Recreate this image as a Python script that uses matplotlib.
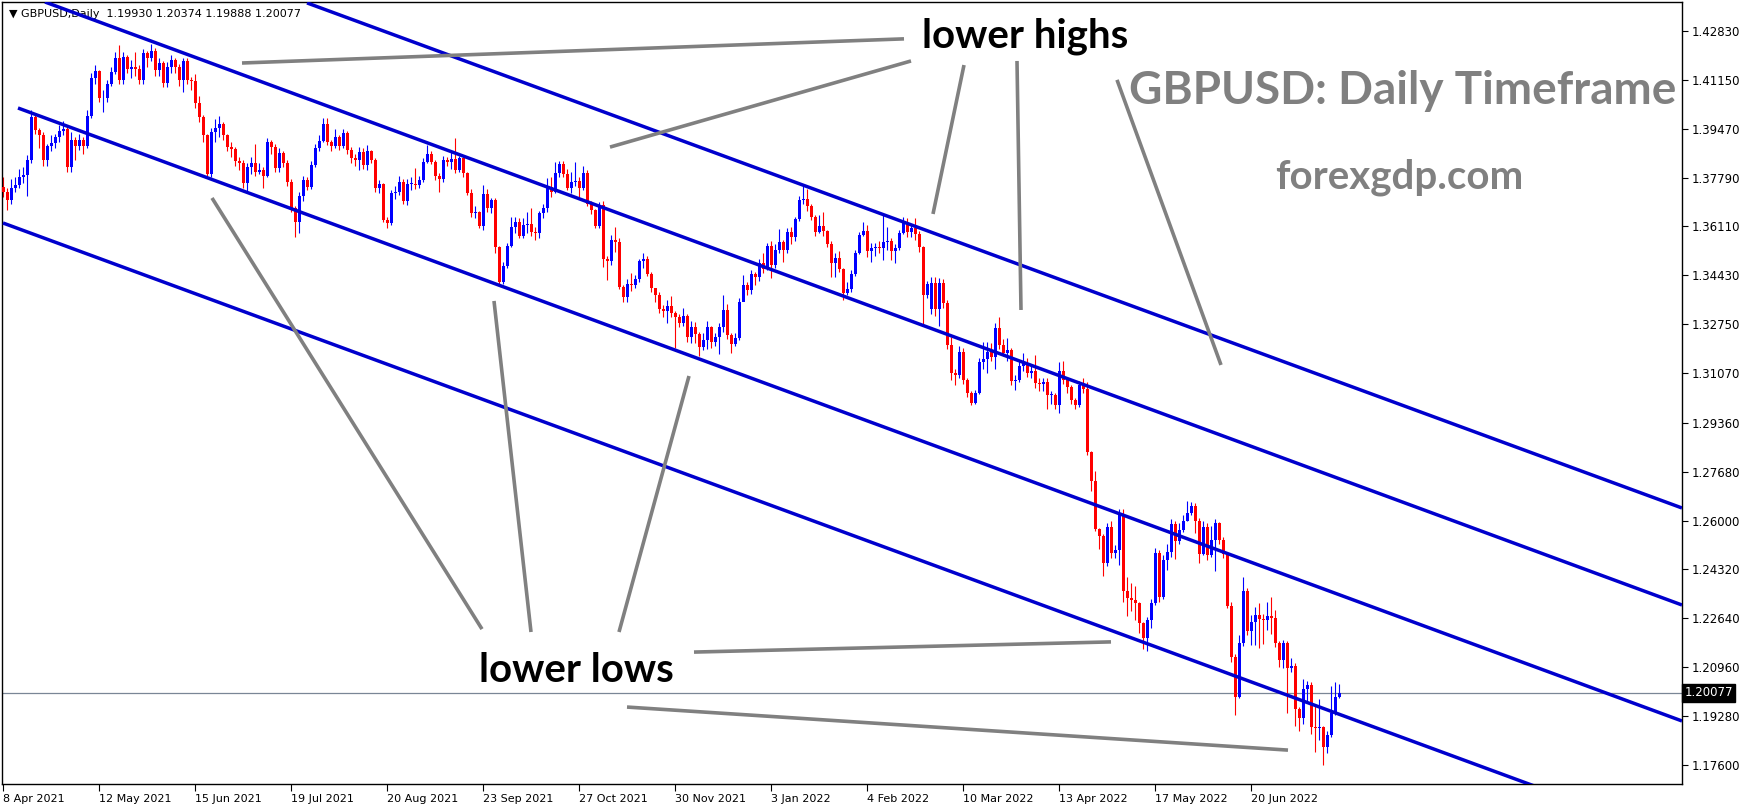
import numpy as np
import matplotlib
matplotlib.use("Agg")
import matplotlib.pyplot as plt

# daily candles, GBPUSD 8 Apr 2021 .. Jul 2022
first_open = 1.3747
gap_opens = {232: 1.3326}

closes = [
    # Apr - Jul 2021
    1.3730, 1.3702, 1.3742, 1.3753, 1.3782, 1.3787, 1.3841, 1.3986, 1.3942, 1.3925,
    1.3839, 1.3887, 1.3899, 1.3917, 1.3939, 1.3946, 1.3814, 1.3910, 1.3887, 1.3908,
    1.3888, 1.3990, 1.4120, 1.4146, 1.4051, 1.4053, 1.4100, 1.4143, 1.4190, 1.4114,
    1.4194, 1.4151, 1.4160, 1.4153, 1.4116, 1.4208, 1.4189, 1.4215, 1.4148, 1.4174,
    1.4105, 1.4158, 1.4183, 1.4158, 1.4114, 1.4179, 1.4114, 1.4112, 1.4036, 1.3986,
    1.3925, 1.3793, 1.3937, 1.3948, 1.3965, 1.3925, 1.3883, 1.3879, 1.3837, 1.3830,
    1.3761, 1.3816, 1.3830, 1.3799, 1.3805, 1.3785, 1.3901,
    # Jul - Oct 2021
    1.3883, 1.3811, 1.3862, 1.3828, 1.3765, 1.3673, 1.3627, 1.3716, 1.3771, 1.3748,
    1.3822, 1.3880, 1.3906, 1.3963, 1.3903, 1.3889, 1.3920, 1.3888, 1.3934, 1.3874,
    1.3845, 1.3840, 1.3868, 1.3822, 1.3872, 1.3840, 1.3742, 1.3757, 1.3633, 1.3624,
    1.3725, 1.3731, 1.3765, 1.3700, 1.3757, 1.3758, 1.3754, 1.3771, 1.3834, 1.3860,
    1.3834, 1.3784, 1.3773, 1.3839, 1.3834, 1.3842, 1.3805, 1.3845, 1.3796, 1.3727,
    1.3658, 1.3661, 1.3613, 1.3723, 1.3673, 1.3702, 1.3539, 1.3421, 1.3475, 1.3544,
    1.3610, 1.3625, 1.3579, 1.3616, 1.3619, 1.3593, 1.3587, 1.3658, 1.3673, 1.3748,
    # Oct 2021 - Jan 2022
    1.3731, 1.3794, 1.3826, 1.3791, 1.3742, 1.3765, 1.3767, 1.3742, 1.3794, 1.3688,
    1.3668, 1.3613, 1.3685, 1.3498, 1.3493, 1.3565, 1.3557, 1.3404, 1.3370, 1.3413,
    1.3410, 1.3429, 1.3493, 1.3499, 1.3448, 1.3398, 1.3375, 1.3326, 1.3322, 1.3338,
    1.3312, 1.3299, 1.3278, 1.3303, 1.3230, 1.3264, 1.3241, 1.3198, 1.3221, 1.3267,
    1.3215, 1.3230, 1.3264, 1.3324, 1.3238, 1.3207, 1.3226, 1.3350, 1.3410, 1.3393,
    1.3446, 1.3436, 1.3484, 1.3464, 1.3544, 1.3479, 1.3530, 1.3559, 1.3530, 1.3593,
    1.3576, 1.3637, 1.3702, 1.3704, 1.3681, 1.3645, 1.3593,
    # Jan - Apr 2022
    1.3613, 1.3597, 1.3551, 1.3487, 1.3502, 1.3464, 1.3381, 1.3395, 1.3448, 1.3521,
    1.3582, 1.3597, 1.3528, 1.3536, 1.3539, 1.3536, 1.3559, 1.3561, 1.3528, 1.3536,
    1.3587, 1.3624, 1.3593, 1.3605, 1.3585, 1.3539, 1.3375, 1.3413, 1.3418, 1.3326,
    1.3418, 1.3347, 1.3204, 1.3106, 1.3100, 1.3181, 1.3083, 1.3037, 1.3003, 1.3037,
    1.3146, 1.3154, 1.3181, 1.3163, 1.3261, 1.3204, 1.3177, 1.3186, 1.3081, 1.3085,
    1.3131, 1.3143, 1.3108, 1.3115, 1.3072, 1.3069, 1.3077, 1.3032, 1.3032, 1.2997,
    1.3115, 1.3083, 1.3060, 1.3014, 1.2997, 1.3066, 1.3051, 1.2837,
    # Apr - Jul 2022
    1.2737, 1.2570, 1.2547, 1.2455, 1.2579, 1.2490, 1.2499, 1.2623, 1.2359, 1.2333,
    1.2327, 1.2315, 1.2249, 1.2195, 1.2258, 1.2315, 1.2490, 1.2336, 1.2465, 1.2493,
    1.2588, 1.2531, 1.2568, 1.2600, 1.2627, 1.2650, 1.2600, 1.2485, 1.2579, 1.2482,
    1.2533, 1.2593, 1.2533, 1.2485, 1.2306, 1.2130, 1.1995, 1.2178, 1.2358, 1.2222,
    1.2252, 1.2275, 1.2261, 1.2258, 1.2272, 1.2264, 1.2178, 1.2121, 1.2178, 1.2092,
    1.2100, 1.1951, 1.1920, 1.2020, 1.2035, 1.1889, 1.1886, 1.1889, 1.1820, 1.1863,
    1.1937, 1.1993, 1.20077,
]

highs = [
    1.3782, 1.3745, 1.3775, 1.3780, 1.3810, 1.3815, 1.3856, 1.4010, 1.4000, 1.3950,
    1.3935, 1.3895, 1.3925, 1.3930, 1.3960, 1.3975, 1.3960, 1.3935, 1.3920, 1.3930,
    1.3920, 1.4010, 1.4140, 1.4166, 1.4150, 1.4080, 1.4115, 1.4160, 1.4210, 1.4235,
    1.4210, 1.4200, 1.4185, 1.4210, 1.4165, 1.4220, 1.4215, 1.4240, 1.4225, 1.4190,
    1.4180, 1.4175, 1.4200, 1.4190, 1.4170, 1.4190, 1.4190, 1.4125, 1.4135, 1.4060,
    1.3995, 1.3930, 1.3950, 1.3980, 1.3990, 1.3970, 1.3930, 1.3900, 1.3885, 1.3850,
    1.3840, 1.3830, 1.3850, 1.3896, 1.3830, 1.3815, 1.3915,
    1.3910, 1.3895, 1.3880, 1.3870, 1.3840, 1.3775, 1.3680, 1.3730, 1.3785, 1.3780,
    1.3835, 1.3895, 1.3925, 1.3985, 1.3985, 1.3910, 1.3945, 1.3925, 1.3945, 1.3940,
    1.3885, 1.3860, 1.3885, 1.3880, 1.3890, 1.3875, 1.3845, 1.3770, 1.3760, 1.3645,
    1.3735, 1.3750, 1.3785, 1.3775, 1.3775, 1.3780, 1.3811, 1.3785, 1.3845, 1.3891,
    1.3870, 1.3840, 1.3795, 1.3855, 1.3850, 1.3870, 1.3914, 1.3855, 1.3850, 1.3800,
    1.3740, 1.3680, 1.3665, 1.3754, 1.3740, 1.3710, 1.3710, 1.3545, 1.3490, 1.3555,
    1.3645, 1.3645, 1.3640, 1.3640, 1.3662, 1.3673, 1.3610, 1.3665, 1.3690, 1.3776,
    1.3780, 1.3834, 1.3835, 1.3835, 1.3810, 1.3800, 1.3834, 1.3780, 1.3819, 1.3805,
    1.3700, 1.3670, 1.3696, 1.3700, 1.3510, 1.3582, 1.3608, 1.3570, 1.3410, 1.3430,
    1.3452, 1.3445, 1.3500, 1.3519, 1.3510, 1.3455, 1.3400, 1.3385, 1.3340, 1.3360,
    1.3372, 1.3320, 1.3310, 1.3330, 1.3310, 1.3285, 1.3284, 1.3250, 1.3245, 1.3285,
    1.3270, 1.3245, 1.3280, 1.3375, 1.3345, 1.3245, 1.3245, 1.3365, 1.3444, 1.3420,
    1.3460, 1.3455, 1.3500, 1.3519, 1.3555, 1.3560, 1.3550, 1.3601, 1.3565, 1.3605,
    1.3610, 1.3645, 1.3715, 1.3749, 1.3740, 1.3690, 1.3650,
    1.3650, 1.3662, 1.3600, 1.3560, 1.3520, 1.3528, 1.3470, 1.3420, 1.3460, 1.3530,
    1.3592, 1.3627, 1.3616, 1.3555, 1.3555, 1.3560, 1.3650, 1.3610, 1.3570, 1.3550,
    1.3600, 1.3645, 1.3640, 1.3620, 1.3640, 1.3595, 1.3545, 1.3425, 1.3438, 1.3438,
    1.3435, 1.3430, 1.3360, 1.3230, 1.3120, 1.3200, 1.3195, 1.3090, 1.3045, 1.3050,
    1.3160, 1.3215, 1.3215, 1.3210, 1.3278, 1.3299, 1.3225, 1.3226, 1.3195, 1.3100,
    1.3150, 1.3175, 1.3160, 1.3130, 1.3169, 1.3090, 1.3090, 1.3090, 1.3045, 1.3040,
    1.3145, 1.3150, 1.3090, 1.3065, 1.3020, 1.3080, 1.3090, 1.3075,
    1.2840, 1.2770, 1.2575, 1.2555, 1.2590, 1.2600, 1.2516, 1.2640, 1.2640, 1.2407,
    1.2384, 1.2375, 1.2320, 1.2250, 1.2270, 1.2329, 1.2505, 1.2500, 1.2480, 1.2520,
    1.2605, 1.2600, 1.2590, 1.2620, 1.2668, 1.2665, 1.2660, 1.2610, 1.2600, 1.2590,
    1.2580, 1.2605, 1.2595, 1.2545, 1.2490, 1.2320, 1.2140, 1.2207, 1.2405, 1.2367,
    1.2275, 1.2304, 1.2315, 1.2280, 1.2321, 1.2336, 1.2293, 1.2185, 1.2190, 1.2185,
    1.2127, 1.2110, 1.1960, 1.2054, 1.2050, 1.2045, 1.1966, 1.1985, 1.1895, 1.1875,
    1.2030, 1.2046, 1.20374,
]

lows = [
    1.3713, 1.3667, 1.3690, 1.3730, 1.3745, 1.3760, 1.3716, 1.3830, 1.3930, 1.3880,
    1.3820, 1.3820, 1.3870, 1.3880, 1.3900, 1.3925, 1.3800, 1.3800, 1.3840, 1.3875,
    1.3860, 1.3880, 1.3985, 1.4100, 1.4040, 1.4005, 1.4040, 1.4095, 1.4135, 1.4100,
    1.4100, 1.4140, 1.4120, 1.4130, 1.4100, 1.4100, 1.4160, 1.4180, 1.4130, 1.4130,
    1.4090, 1.4090, 1.4140, 1.4140, 1.4095, 1.4074, 1.4100, 1.4080, 1.4020, 1.3970,
    1.3900, 1.3785, 1.3782, 1.3900, 1.3920, 1.3910, 1.3870, 1.3850, 1.3820, 1.3805,
    1.3745, 1.3730, 1.3790, 1.3785, 1.3790, 1.3742, 1.3780,
    1.3860, 1.3800, 1.3800, 1.3815, 1.3750, 1.3660, 1.3576, 1.3587, 1.3700, 1.3735,
    1.3740, 1.3815, 1.3870, 1.3900, 1.3890, 1.3870, 1.3880, 1.3875, 1.3880, 1.3860,
    1.3830, 1.3820, 1.3805, 1.3810, 1.3805, 1.3830, 1.3730, 1.3725, 1.3625, 1.3605,
    1.3615, 1.3705, 1.3720, 1.3690, 1.3685, 1.3735, 1.3740, 1.3745, 1.3765, 1.3830,
    1.3825, 1.3770, 1.3731, 1.3765, 1.3820, 1.3810, 1.3795, 1.3800, 1.3780, 1.3720,
    1.3645, 1.3640, 1.3605, 1.3600, 1.3660, 1.3658, 1.3520, 1.3412, 1.3415, 1.3470,
    1.3540, 1.3590, 1.3570, 1.3570, 1.3590, 1.3580, 1.3565, 1.3570, 1.3640, 1.3660,
    1.3714, 1.3725, 1.3780, 1.3780, 1.3735, 1.3725, 1.3750, 1.3713, 1.3735, 1.3680,
    1.3655, 1.3605, 1.3605, 1.3471, 1.3427, 1.3480, 1.3524, 1.3395, 1.3350, 1.3352,
    1.3390, 1.3400, 1.3420, 1.3470, 1.3440, 1.3385, 1.3350, 1.3315, 1.3300, 1.3278,
    1.3300, 1.3195, 1.3265, 1.3270, 1.3215, 1.3209, 1.3210, 1.3165, 1.3185, 1.3189,
    1.3195, 1.3200, 1.3173, 1.3250, 1.3225, 1.3175, 1.3200, 1.3220, 1.3390, 1.3375,
    1.3380, 1.3410, 1.3425, 1.3450, 1.3460, 1.3433, 1.3470, 1.3520, 1.3490, 1.3520,
    1.3550, 1.3560, 1.3630, 1.3690, 1.3665, 1.3635, 1.3580,
    1.3590, 1.3580, 1.3540, 1.3438, 1.3436, 1.3455, 1.3358, 1.3375, 1.3385, 1.3440,
    1.3515, 1.3580, 1.3505, 1.3490, 1.3510, 1.3520, 1.3496, 1.3530, 1.3496, 1.3487,
    1.3530, 1.3585, 1.3575, 1.3575, 1.3565, 1.3525, 1.3272, 1.3365, 1.3310, 1.3303,
    1.3270, 1.3330, 1.3190, 1.3085, 1.3065, 1.3090, 1.3070, 1.3025, 1.2997, 1.3000,
    1.3035, 1.3120, 1.3106, 1.3150, 1.3120, 1.3190, 1.3165, 1.3150, 1.3065, 1.3049,
    1.3075, 1.3115, 1.3095, 1.3090, 1.3055, 1.3045, 1.3045, 1.2982, 1.3000, 1.2985,
    1.2971, 1.3070, 1.3040, 1.3000, 1.2985, 1.2990, 1.3040, 1.2825,
    1.2700, 1.2565, 1.2501, 1.2410, 1.2445, 1.2470, 1.2470, 1.2447, 1.2320, 1.2272,
    1.2290, 1.2258, 1.2215, 1.2160, 1.2153, 1.2230, 1.2310, 1.2320, 1.2330, 1.2430,
    1.2475, 1.2467, 1.2520, 1.2560, 1.2600, 1.2620, 1.2558, 1.2455, 1.2480, 1.2465,
    1.2475, 1.2428, 1.2520, 1.2470, 1.2300, 1.2115, 1.1932, 1.1990, 1.2170, 1.2207,
    1.2172, 1.2172, 1.2161, 1.2175, 1.2225, 1.2210, 1.2165, 1.2095, 1.2092, 1.1937,
    1.2080, 1.1895, 1.1878, 1.1900, 1.1980, 1.1866, 1.1806, 1.1845, 1.1760, 1.1802,
    1.1855, 1.1930, 1.19888,
]

date_labels = ["8 Apr 2021", "12 May 2021", "15 Jun 2021", "19 Jul 2021", "20 Aug 2021",
               "23 Sep 2021", "27 Oct 2021", "30 Nov 2021", "3 Jan 2022", "4 Feb 2022",
               "10 Mar 2022", "13 Apr 2022", "17 May 2022", "20 Jun 2022"]
date_bars = [0, 24, 48, 72, 96, 120, 144, 168, 192, 216, 240, 264, 288, 312]

price_ticks = [1.42830, 1.41150, 1.39470, 1.37790, 1.36110, 1.34430, 1.32750, 1.31070,
               1.29360, 1.27680, 1.26000, 1.24320, 1.22640, 1.20960, 1.19280, 1.17600]

# channel lines: (bar, price) start and end
channels = [
    ((76.0, 1.43796), (419.75, 1.26433)),
    ((10.5, 1.43827), (419.75, 1.23098)),
    ((3.75, 1.40183), (419.75, 1.19111)),
    ((0.0, 1.36230), (419.75, 1.15010)),
]

# grey pointer lines (bar, price)
pointers = [
    ((59.75, 1.4173), (225.25, 1.4256)),
    ((151.75, 1.3884), (227.0, 1.4180)),
    ((232.5, 1.3654), (240.25, 1.4166)),
    ((254.5, 1.3324), (253.5, 1.4180)),
    ((278.5, 1.4115), (304.5, 1.3135)),
    ((119.75, 1.2227), (52.25, 1.3709)),
    ((132.0, 1.2217), (122.75, 1.3355)),
    ((154.0, 1.2217), (171.5, 1.3097)),
    ((172.75, 1.2148), (277.0, 1.2183)),
    ((156.0, 1.1959), (321.25, 1.1811)),
]

closes = np.array(closes)
highs = np.array(highs)
lows = np.array(lows)
opens = np.concatenate([[first_open], closes[:-1]])
for k, v in gap_opens.items():
    opens[k] = v
bars = np.arange(len(closes))
last = closes[-1]

W, H = 1746, 808
fig = plt.figure(figsize=(W / 100, H / 100), dpi=100)
ax = fig.add_axes([2 / W, 24 / H, 1680 / W, 782 / H])
ax.set_xlim(-0.25, 419.75)
ax.set_ylim(1.16945, 1.43827)

up = closes >= opens
colors = np.where(up, "#0000ff", "#ff0000")
ax.vlines(bars, lows, highs, colors=colors, lw=0.8, zorder=2)
body_lo = np.minimum(opens, closes)
body_h = np.maximum(np.abs(closes - opens), 0.0003)
ax.bar(bars, body_h, bottom=body_lo, width=0.75, color=colors, lw=0, zorder=3)

for (x0, y0), (x1, y1) in channels:
    ax.plot([x0, x1], [y0, y1], color="#0000cd", lw=2.5, zorder=4,
            solid_capstyle="butt")

for (x0, y0), (x1, y1) in pointers:
    ax.plot([x0, x1], [y0, y1], color="#808080", lw=2.6, zorder=5,
            solid_capstyle="butt")

ax.axhline(last, color="#7a8696", lw=0.9, zorder=1)

big = dict(family="Lato", weight="bold", ha="center", va="center", zorder=6)
ax.text(255.5, 1.4264, "lower highs", fontsize=29, color="black", **big)
ax.text(143.25, 1.2083, "lower lows", fontsize=29, color="black", **big)
ax.text(350, 1.4077, "GBPUSD: Daily Timeframe", fontsize=33, color="#808080", **big)
ax.text(349, 1.3781, "forexgdp.com", fontsize=29, color="#808080", **big)

ax.text(0.004, 0.985, "\u25bc GBPUSD,Daily  1.19930 1.20374 1.19888 1.20077",
        transform=ax.transAxes, fontsize=8, va="center", ha="left", color="black")

# axes and ticks, MT4 style
for s in ax.spines.values():
    s.set_color("black")
    s.set_linewidth(1)
ax.yaxis.tick_right()
ax.set_yticks(price_ticks)
ax.set_yticklabels([f"{p:.5f}" for p in price_ticks])
ax.tick_params(axis="y", direction="out", length=4, width=0.8, labelsize=8.5, pad=3)
ax.set_xticks(date_bars)
ax.set_xticklabels(date_labels, ha="left")
ax.tick_params(axis="x", direction="out", length=5, width=0.8, labelsize=8, pad=2)

ax.text(1.0013, last, "1.20077", transform=ax.get_yaxis_transform(), fontsize=8.5,
        color="white", va="center", ha="left",
        bbox=dict(boxstyle="square,pad=0.2", fc="black", ec="black"), zorder=10,
        clip_on=False)

fig.savefig("out.png", dpi=100)
